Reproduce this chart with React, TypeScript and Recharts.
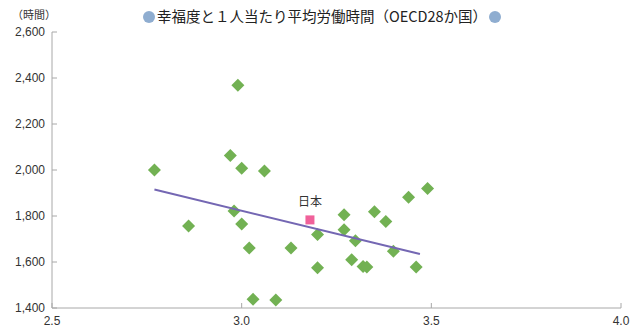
import { ScatterChart, Scatter, XAxis, YAxis, LabelList } from "recharts";

// 幸福度 (x) と 1人当たり平均労働時間 (y)
const happiness = [
  2.77, 2.86, 2.97, 2.99, 2.98, 3.0, 3.0, 3.02, 3.06, 3.03, 3.09, 3.13, 3.2,
  3.2, 3.27, 3.27, 3.3, 3.29, 3.32, 3.33, 3.35, 3.38, 3.4, 3.44, 3.49, 3.46,
];
const hours = [
  2000, 1756, 2063, 2368, 1822, 2008, 1765, 1661, 1996, 1438, 1435, 1661, 1720,
  1575, 1805, 1740, 1692, 1610, 1580, 1578, 1818, 1776, 1647, 1882, 1920, 1578,
];
const japan = [{ x: 3.18, y: 1783, name: "日本" }];
const trendX = [2.77, 3.47];
const trendY = [1915, 1635];

const xTicks = [2.5, 3.0, 3.5, 4.0];
const yTicks = [1400, 1600, 1800, 2000, 2200, 2400, 2600];

const countries = happiness.map((x, i) => ({ x, y: hours[i] }));
const trend = trendX.map((x, i) => ({ x, y: trendY[i] }));

const Diamond = (p: any) => {
  const r = 6.5;
  return (
    <polygon
      points={`${p.cx},${p.cy - r} ${p.cx + r},${p.cy} ${p.cx},${p.cy + r} ${p.cx - r},${p.cy}`}
      fill="#72b153"
    />
  );
};

const Square = (p: any) => (
  <rect x={p.cx - 4.5} y={p.cy - 4.5} width={9} height={9} fill="#f0619a" />
);

const dot = {
  display: "inline-block",
  width: 12,
  height: 12,
  borderRadius: 6,
  background: "#8fadd0",
  verticalAlign: "-1px",
  margin: "0 2px",
};

export default function App() {
  const font = "'Liberation Sans', Arial, sans-serif";
  return (
    <div
      style={{
        position: "absolute",
        left: 0,
        top: 0,
        width: 632,
        height: 332,
        background: "#fff",
      }}
    >
      <div
        style={{
          position: "absolute",
          left: 12,
          top: 6,
          fontSize: 11,
          color: "#333",
          fontFamily: "'Noto Sans CJK JP', sans-serif",
        }}
      >
        （時間）
      </div>
      <div
        style={{
          position: "absolute",
          left: 0,
          width: 644,
          top: 5,
          textAlign: "center",
          fontSize: 14.5,
          color: "#222",
          fontFamily: "'Noto Sans CJK JP', sans-serif",
          whiteSpace: "nowrap",
        }}
      >
        <span style={dot} />
        幸福度と１人当たり平均労働時間（OECD28か国）
        <span style={dot} />
      </div>
      <ScatterChart
        width={632}
        height={332}
        margin={{ top: 32, right: 11, bottom: 0, left: 0 }}
      >
        <XAxis
          type="number"
          dataKey="x"
          domain={[2.5, 4.0]}
          ticks={xTicks}
          tickFormatter={(v: number) => v.toFixed(1)}
          stroke="#a8a8a8"
          tickSize={-5}
          tickMargin={13}
          height={24}
          tick={{ fill: "#333", fontSize: 12, fontFamily: font }}
          interval={0}
        />
        <YAxis
          type="number"
          dataKey="y"
          domain={[1400, 2600]}
          ticks={yTicks}
          tickFormatter={(v: number) => v.toLocaleString("en-US")}
          stroke="#a8a8a8"
          tickSize={-5}
          tickMargin={12}
          width={52}
          tick={{ fill: "#333", fontSize: 12, fontFamily: font }}
          interval={0}
        />
        <Scatter
          data={countries}
          shape={Diamond}
          isAnimationActive={false}
        />
        <Scatter
          data={trend}
          line={{ stroke: "#7467b3", strokeWidth: 2 }}
          shape={() => <g />}
          isAnimationActive={false}
        />
        <Scatter data={japan} shape={Square} isAnimationActive={false}>
          <LabelList
            dataKey="name"
            position="top"
            offset={9}
            fill="#333"
            fontSize={12}
            fontFamily="'Noto Sans CJK JP', sans-serif"
          />
        </Scatter>
      </ScatterChart>
    </div>
  );
}
